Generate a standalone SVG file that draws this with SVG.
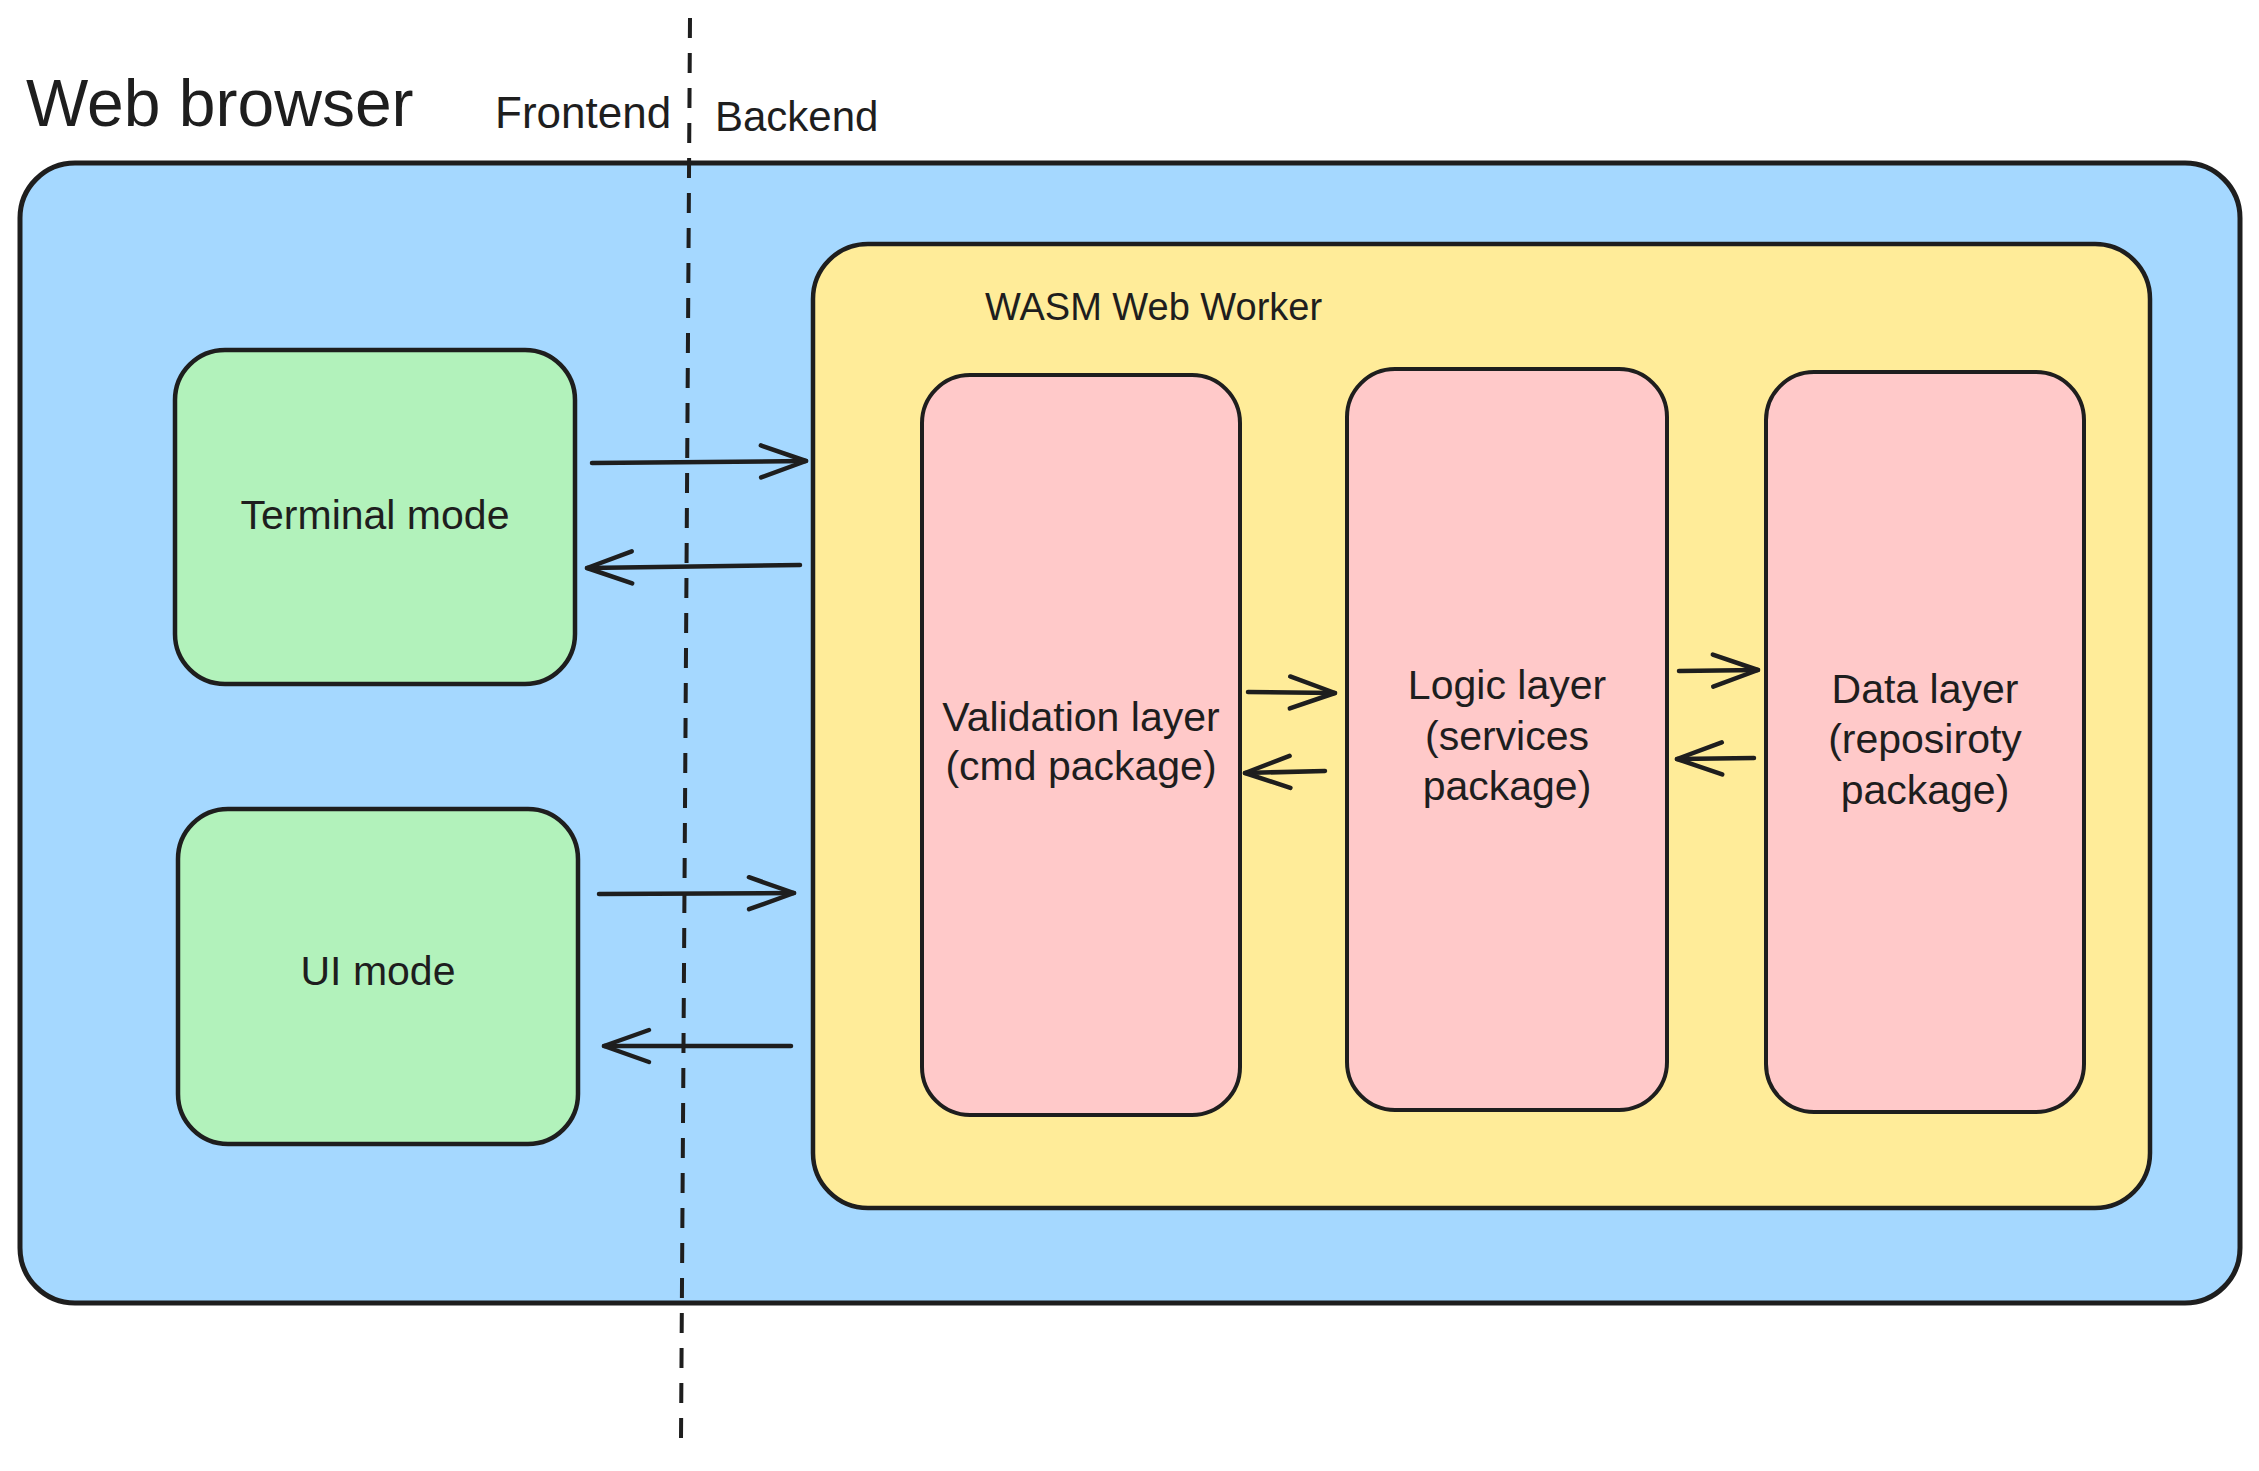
<svg xmlns="http://www.w3.org/2000/svg" width="2259" height="1471" viewBox="0 0 2259 1471">
  <style>
    .box { stroke: #1e1e1e; stroke-width: 4.5; stroke-linejoin: round; }
    .browser { fill: #a5d8ff; stroke-width: 5; }
    .worker { fill: #ffec99; }
    .mode { fill: #b2f2bb; }
    .layer { fill: #ffc9c9; stroke-width: 4; }
    .txt { font-family: "Liberation Sans", Arial, sans-serif; fill: #1e1e1e; }
    .lbl { font-size: 41px; text-anchor: middle; }
    .conn { fill: none; stroke: #1e1e1e; stroke-width: 4.5; stroke-linecap: round; marker-end: url(#ah); }
    .divider { fill: none; stroke: #1e1e1e; stroke-width: 4; stroke-dasharray: 20 15; }
  </style>
  <defs>
    <marker id="ah" markerUnits="userSpaceOnUse" markerWidth="60" markerHeight="40" viewBox="0 0 60 40" refX="50" refY="20" orient="auto">
      <path d="M5 4 L50 20 L5 36" fill="none" stroke="#1e1e1e" stroke-width="4.5" stroke-linecap="round" stroke-linejoin="round"/>
    </marker>
  </defs>
  <rect width="2259" height="1471" fill="#ffffff"/>

  <g id="web-browser">
    <rect class="box browser" x="20" y="163" width="2220" height="1140" rx="55" ry="55"/>
    <text class="txt" x="26" y="126" font-size="66">Web browser</text>
  </g>

  <g id="frontend-label">
    <text class="txt" x="495" y="128" font-size="44">Frontend</text>
  </g>
  <g id="backend-label">
    <text class="txt" x="715" y="131" font-size="42">Backend</text>
  </g>

  <g id="wasm-worker">
    <rect class="box worker" x="813" y="244" width="1337" height="964" rx="55" ry="55"/>
    <text class="txt" x="985" y="320" font-size="38">WASM Web Worker</text>
  </g>

  <g id="terminal-mode">
    <rect class="box mode" x="175" y="350" width="400" height="334" rx="50" ry="50"/>
    <text class="txt lbl" x="375" y="529">Terminal mode</text>
  </g>

  <g id="ui-mode">
    <rect class="box mode" x="178" y="809" width="400" height="335" rx="50" ry="50"/>
    <text class="txt lbl" x="378" y="985" font-size="43">UI mode</text>
  </g>

  <g id="validation-layer">
    <rect class="box layer" x="922" y="375" width="318" height="740" rx="48" ry="48"/>
    <text class="txt lbl" x="1081" y="731">Validation layer</text>
    <text class="txt lbl" x="1081" y="780">(cmd package)</text>
  </g>

  <g id="logic-layer">
    <rect class="box layer" x="1347" y="369" width="320" height="741" rx="48" ry="48"/>
    <text class="txt lbl" x="1507" y="699">Logic layer</text>
    <text class="txt lbl" x="1507" y="750">(services</text>
    <text class="txt lbl" x="1507" y="800">package)</text>
  </g>

  <g id="data-layer">
    <rect class="box layer" x="1766" y="372" width="318" height="740" rx="48" ry="48"/>
    <text class="txt lbl" x="1925" y="703">Data layer</text>
    <text class="txt lbl" x="1925" y="753">(reposiroty</text>
    <text class="txt lbl" x="1925" y="804">package)</text>
  </g>

  <g id="connectors">
    <path class="conn" d="M592 463 L806 461"/>
    <path class="conn" d="M800 565 L587 568"/>
    <path class="conn" d="M599 894 L794 893"/>
    <path class="conn" d="M791 1046 L604 1046"/>
    <path class="conn" d="M1248 692 L1335 693"/>
    <path class="conn" d="M1325 771 L1245 773"/>
    <path class="conn" d="M1679 671 L1758 670"/>
    <path class="conn" d="M1754 758 L1677 759"/>
  </g>

  <g id="frontend-backend-divider">
    <path class="divider" d="M690 18 L681 1441"/>
  </g>
</svg>
